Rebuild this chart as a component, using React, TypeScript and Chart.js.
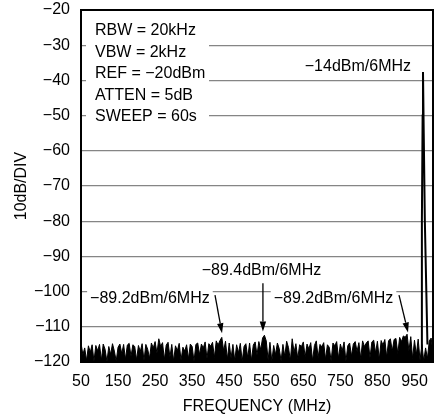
import React, { useEffect, useRef } from "react";
import { Chart, registerables } from "chart.js";

Chart.register(...registerables);

// ---------- data ----------
const xTickValues = [50, 150, 250, 350, 450, 550, 650, 750, 850, 950];
const xTickLabels = ["50", "150", "250", "350", "450", "550", "650", "750", "850", "950"];
const yTickValues = [-20, -30, -40, -50, -60, -70, -80, -90, -100, -110, -120];
const yTickLabels = ["−20", "−30", "−40", "−50", "−60", "−70", "−80", "−90", "−100", "−110", "−120"];

const noiseStartMHz = 50;
const noiseStepMHz = 5;
// noise floor trace (dBm), one reading every 5 MHz from 50 MHz to 1000 MHz
const noiseLevels = [
  -114.6, -117.9, -116.0, -119.6, -115.4, -117.2, -115.1, -119.8, -115.3, -116.8,
  -115.0, -119.5, -114.9, -116.4, -119.9, -115.6, -117.8, -114.8, -116.9, -119.7,
  -115.8, -114.9, -117.6, -115.0, -119.2, -115.2, -114.7, -118.4, -115.1, -115.6,
  -119.4, -115.3, -117.0, -114.8, -119.6, -115.0, -116.4, -118.9, -114.6, -116.0,
  -114.2, -117.5, -113.4, -115.6, -114.5, -119.3, -115.2, -114.4, -118.6, -115.0,
  -119.7, -115.4, -116.8, -114.7, -119.5, -115.8, -116.9, -115.1, -119.1, -114.9,
  -115.6, -119.8, -115.0, -114.6, -117.9, -114.9, -116.0, -114.3, -119.0, -114.8,
  -115.5, -114.4, -118.7, -114.0, -115.2, -113.9, -113.0, -116.8, -114.1, -119.2,
  -114.6, -118.9, -115.0, -119.6, -115.1, -117.4, -114.7, -119.8, -115.6, -114.8,
  -118.8, -114.6, -119.5, -115.2, -114.3, -118.0, -114.2, -116.5, -113.2, -112.4,
  -114.0, -119.4, -114.4, -119.8, -115.3, -117.9, -114.6, -116.2, -119.7, -115.0,
  -118.4, -114.1, -115.9, -119.5, -113.4, -117.2, -114.8, -119.0, -115.1, -115.6,
  -114.3, -118.6, -114.9, -116.3, -114.5, -119.6, -115.3, -114.0, -118.7, -115.0,
  -115.7, -114.5, -119.2, -115.1, -115.8, -119.7, -114.6, -115.4, -114.2, -118.9,
  -114.9, -116.8, -114.3, -119.8, -115.4, -114.6, -118.3, -114.9, -114.2, -117.0,
  -114.5, -119.0, -114.0, -115.6, -114.6, -114.0, -118.8, -114.3, -113.8, -117.4,
  -114.1, -119.3, -113.9, -115.2, -113.6, -118.6, -114.0, -113.4, -116.9, -113.6,
  -113.3, -117.6, -113.0, -114.2, -112.6, -113.0, -112.1, -116.8, -112.8, -119.0,
  -113.8, -117.9, -113.5, -119.5, -115.0, -119.7, -116.0, -119.0, -114.0, -113.2,
  -117.5,
];

// carrier spike
const peakFreq = [968, 970, 972, 973, 975, 978, 982, 985];
const peakLevel = [-116, -80, -50, -37.6, -55, -80, -100, -115];

const settingsLines = ["RBW = 20kHz", "VBW = 2kHz", "REF = −20dBm", "ATTEN = 5dB", "SWEEP = 60s"];

const annotationTexts = ["−89.2dBm/6MHz", "−89.4dBm/6MHz", "−89.2dBm/6MHz", "−14dBm/6MHz"];
const annotationFreq = [236, 537, 731.5, 940.7];
const annotationLevel = [-101.9, -93.9, -101.9, -36.2];
const annotationAlign: CanvasTextAlign[] = ["center", "center", "center", "right"];

const arrowFromFreq = [411.7, 541, 908.3];
const arrowFromLevel = [-101.0, -97.6, -101.0];
const arrowToFreq = [430.6, 541, 932.6];
const arrowToLevel = [-111.8, -111.3, -111.6];

// ---------- styling ----------
const FAMILY = '"Liberation Sans", Arial, Helvetica, sans-serif';
const FONT = `16px ${FAMILY}`;

const overlayPlugin = {
  id: "overlay",
  beforeDatasetsDraw(chart: any) {
    const { ctx, chartArea: a, scales } = chart;
    const x = scales.x;
    const y = scales.y;
    ctx.save();
    ctx.font = FONT;
    ctx.textBaseline = "middle";

    // settings box
    ctx.fillStyle = "#fff";
    ctx.fillRect(a.left + 5, a.top + 8, 123, 110);
    ctx.fillStyle = "#000";
    ctx.textAlign = "left";
    settingsLines.forEach((t, i) => ctx.fillText(t, a.left + 14, a.top + 21 + i * 21.5));

    // annotation labels
    annotationTexts.forEach((t, i) => {
      const px = x.getPixelForValue(annotationFreq[i]);
      const py = y.getPixelForValue(annotationLevel[i]);
      const w = ctx.measureText(t).width;
      const align = annotationAlign[i];
      const left = align === "right" ? px - w : px - w / 2;
      ctx.fillStyle = "#fff";
      ctx.fillRect(left - 3, py - 9, w + 6, 18);
      ctx.fillStyle = "#000";
      ctx.textAlign = align;
      ctx.fillText(t, px, py);
    });

    // arrows
    ctx.strokeStyle = "#000";
    ctx.fillStyle = "#000";
    ctx.lineWidth = 1.3;
    arrowFromFreq.forEach((_, i) => {
      const x1 = x.getPixelForValue(arrowFromFreq[i]);
      const y1 = y.getPixelForValue(arrowFromLevel[i]);
      const x2 = x.getPixelForValue(arrowToFreq[i]);
      const y2 = y.getPixelForValue(arrowToLevel[i]);
      const ang = Math.atan2(y2 - y1, x2 - x1);
      const len = 10;
      const hw = 3.2;
      const bx = x2 - len * Math.cos(ang);
      const by = y2 - len * Math.sin(ang);
      ctx.beginPath();
      ctx.moveTo(x1, y1);
      ctx.lineTo(bx, by);
      ctx.stroke();
      ctx.beginPath();
      ctx.moveTo(x2, y2);
      ctx.lineTo(bx + hw * Math.sin(ang), by - hw * Math.cos(ang));
      ctx.lineTo(bx - hw * Math.sin(ang), by + hw * Math.cos(ang));
      ctx.closePath();
      ctx.fill();
    });
    ctx.restore();
  },
  afterDraw(chart: any) {
    const { ctx, chartArea: a } = chart;
    ctx.save();
    ctx.strokeStyle = "#000";
    ctx.lineWidth = 2;
    ctx.strokeRect(a.left, a.top, a.right - a.left, a.bottom - a.top);

    ctx.font = FONT;
    ctx.fillStyle = "#000";
    ctx.textAlign = "center";
    ctx.textBaseline = "middle";
    ctx.fillText("FREQUENCY (MHz)", (a.left + a.right) / 2, 407);
    ctx.translate(22, (a.top + a.bottom) / 2);
    ctx.rotate(-Math.PI / 2);
    ctx.fillText("10dB/DIV", 0, 0);
    ctx.restore();
  },
};

export default function App() {
  const ref = useRef<HTMLCanvasElement>(null);

  useEffect(() => {
    document.body.style.margin = "0";
    const noiseData = noiseLevels.map((v, i) => ({ x: noiseStartMHz + i * noiseStepMHz, y: v }));
    const peakData = peakFreq.map((f, i) => ({ x: f, y: peakLevel[i] }));

    const chart = new Chart(ref.current as HTMLCanvasElement, {
      type: "line",
      data: {
        datasets: [
          {
            data: noiseData,
            borderColor: "#000",
            backgroundColor: "#000",
            borderWidth: 1,
            pointRadius: 0,
            fill: "start",
            tension: 0,
          },
          {
            data: peakData,
            borderColor: "#000",
            borderWidth: 2,
            pointRadius: 0,
            fill: false,
            tension: 0,
          },
        ],
      },
      options: {
        animation: false,
        responsive: false,
        layout: { padding: { top: 0, right: 5, left: 0, bottom: 0 } },
        plugins: { legend: { display: false }, tooltip: { enabled: false } },
        scales: {
          x: {
            type: "linear",
            min: 50,
            max: 1000,
            grid: { display: false, drawTicks: false },
            border: { display: false },
            afterBuildTicks: (s: any) => {
              s.ticks = xTickValues.map((v) => ({ value: v }));
            },
            afterFit: (s: any) => {
              s.height = 57;
              s.paddingLeft = 0;
              s.paddingRight = 0;
            },
            ticks: {
              autoSkip: false,
              maxRotation: 0,
              padding: 10,
              color: "#000",
              font: { family: FAMILY, size: 16 },
              callback: (_v: any, i: number) => xTickLabels[i],
            },
          },
          y: {
            min: -120,
            max: -20,
            grid: { color: "#858585", lineWidth: 1.2, drawTicks: false },
            border: { display: false },
            afterBuildTicks: (s: any) => {
              s.ticks = yTickValues.map((v) => ({ value: v }));
            },
            afterFit: (s: any) => {
              s.width = 81;
              s.paddingTop = 10;
              s.paddingBottom = 0;
            },
            ticks: {
              autoSkip: false,
              padding: 11,
              color: "#000",
              font: { family: FAMILY, size: 16 },
              callback: (_v: any, i: number) => yTickLabels[i],
            },
          },
        },
      },
      plugins: [overlayPlugin],
    });
    return () => chart.destroy();
  }, []);

  return (
    <div style={{ width: 438, height: 419 }}>
      <canvas ref={ref} width={438} height={419} style={{ display: "block" }} />
    </div>
  );
}
